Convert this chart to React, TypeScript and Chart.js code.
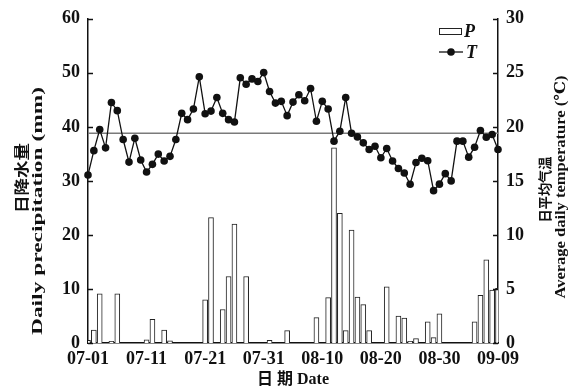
import { useEffect, useRef } from 'react';
import { Chart, registerables } from 'chart.js';

Chart.register(...registerables);

const dates = [
  '07-01','07-02','07-03','07-04','07-05','07-06','07-07','07-08','07-09','07-10',
  '07-11','07-12','07-13','07-14','07-15','07-16','07-17','07-18','07-19','07-20',
  '07-21','07-22','07-23','07-24','07-25','07-26','07-27','07-28','07-29','07-30',
  '07-31','08-01','08-02','08-03','08-04','08-05','08-06','08-07','08-08','08-09',
  '08-10','08-11','08-12','08-13','08-14','08-15','08-16','08-17','08-18','08-19',
  '08-20','08-21','08-22','08-23','08-24','08-25','08-26','08-27','08-28','08-29',
  '08-30','08-31','09-01','09-02','09-03','09-04','09-05','09-06','09-07','09-08',
  '09-09',
];

const xTickLabels = ['07-01', '07-11', '07-21', '07-31', '08-10', '08-20', '08-30', '09-09'];

// Daily precipitation P (mm)
const precipitation = [
  0.5, 2.4, 9.1, 0, 0.3, 9.1, 0, 0, 0, 0,
  0.6, 4.4, 0, 2.4, 0.4, 0, 0, 0, 0, 0,
  8.0, 23.2, 0, 6.2, 12.3, 22.0, 0, 12.3, 0, 0,
  0, 0.5, 0, 0, 2.3, 0, 0, 0, 0, 4.7,
  0, 8.4, 36.1, 24.0, 2.3, 20.9, 8.5, 7.1, 2.3, 0,
  0, 10.4, 0, 5.0, 4.6, 0.3, 0.8, 0, 3.9, 1.0,
  5.4, 0, 0, 0, 0, 0, 3.9, 8.8, 15.4, 9.8,
  10.1,
];

// Average daily temperature T (°C)
const temperature = [
  15.55, 17.8, 19.75, 18.06, 22.26, 21.5, 18.83, 16.74, 18.95, 16.93,
  15.82, 16.53, 17.48, 16.84, 17.27, 18.83, 21.25, 20.67, 21.65, 24.63,
  21.22, 21.46, 22.72, 21.25, 20.67, 20.45, 24.54, 23.95, 24.44, 24.2,
  25.02, 23.27, 22.2, 22.36, 21.04, 22.29, 22.97, 22.42, 23.55, 20.52,
  22.36, 21.65, 18.68, 19.6, 22.72, 19.41, 19.07, 18.52, 17.91, 18.2,
  17.14, 18.0, 16.84, 16.15, 15.73, 14.69, 16.7, 17.1, 16.87, 14.1,
  14.7, 15.67, 15.0, 18.68, 18.68, 17.2, 18.12, 19.66, 19.04, 19.29,
  17.9,
];

const meanTemperature = 19.4;

const leftTicks = [0, 10, 20, 30, 40, 50, 60];
const rightTicks = [0, 5, 10, 15, 20, 25, 30];

const SERIF = "'Liberation Serif', 'DejaVu Serif', serif";
const CJK = "'Noto Sans CJK SC', sans-serif";

function stretchedText(ctx: CanvasRenderingContext2D, text: string, font: string, cx: number, cy: number, len: number) {
  ctx.save();
  ctx.font = font;
  const w = ctx.measureText(text).width;
  ctx.translate(cx, cy);
  ctx.rotate(-Math.PI / 2);
  ctx.scale(len / w, 1);
  ctx.textAlign = 'center';
  ctx.textBaseline = 'middle';
  ctx.fillStyle = '#111';
  ctx.fillText(text, 0, 0);
  ctx.restore();
}

const decor = {
  id: 'decor',
  beforeDatasetsDraw(chart: any) {
    const { ctx, chartArea, scales } = chart;
    const y = scales.y1.getPixelForValue(meanTemperature);
    ctx.save();
    ctx.strokeStyle = '#7a7a7a';
    ctx.lineWidth = 1.5;
    ctx.beginPath();
    ctx.moveTo(chartArea.left, y);
    ctx.lineTo(chartArea.right, y);
    ctx.stroke();
    ctx.restore();
  },
  afterDraw(chart: any) {
    const { ctx, chartArea, scales } = chart;
    ctx.save();
    ctx.strokeStyle = '#111';
    ctx.lineWidth = 1.5;
    leftTicks.forEach((v) => {
      const y = Math.round(scales.y.getPixelForValue(v)) + 0.5;
      ctx.beginPath();
      ctx.moveTo(chartArea.left, y);
      ctx.lineTo(chartArea.left + 5, y);
      ctx.stroke();
    });
    rightTicks.forEach((v) => {
      const y = Math.round(scales.y1.getPixelForValue(v)) + 0.5;
      ctx.beginPath();
      ctx.moveTo(chartArea.right, y);
      ctx.lineTo(chartArea.right - 5, y);
      ctx.stroke();
    });
    ctx.restore();

    // axis titles
    stretchedText(ctx, '日降水量', `bold 15px ${CJK}`, 21.5, 178, 70);
    stretchedText(ctx, 'Daily precipitation (mm)', `bold 15px ${SERIF}`, 38, 211, 248);
    stretchedText(ctx, '日平均气温', `bold 14px ${CJK}`, 545, 189.5, 66);
    stretchedText(ctx, 'Average daily temperature (℃)', `bold 15px ${SERIF}`, 561, 187, 223);

    ctx.save();
    ctx.fillStyle = '#111';
    ctx.textAlign = 'center';
    ctx.textBaseline = 'middle';
    ctx.font = `bold 16px ${SERIF}, ${CJK}`;
    ctx.fillText('日 期 Date', 293, 380);
    ctx.restore();

    // legend
    ctx.save();
    ctx.strokeStyle = '#222';
    ctx.fillStyle = '#fff';
    ctx.lineWidth = 1;
    ctx.fillRect(439.5, 28.5, 22, 6);
    ctx.strokeRect(439.5, 28.5, 22, 6);
    ctx.strokeStyle = '#111';
    ctx.lineWidth = 1.3;
    ctx.beginPath();
    ctx.moveTo(439, 52);
    ctx.lineTo(463, 52);
    ctx.stroke();
    ctx.fillStyle = '#111';
    ctx.beginPath();
    ctx.arc(451, 52, 3.8, 0, Math.PI * 2);
    ctx.fill();
    ctx.font = `italic bold 18px ${SERIF}`;
    ctx.textAlign = 'left';
    ctx.textBaseline = 'middle';
    ctx.fillText('P', 464, 32);
    ctx.fillText('T', 466, 53);
    ctx.restore();
  },
};

export default function App() {
  const ref = useRef<HTMLCanvasElement | null>(null);

  useEffect(() => {
    if (!ref.current) return;
    const tickFont = { family: SERIF, size: 18, weight: 'bold' as const };
    const chart = new Chart(ref.current, {
      type: 'bar',
      data: {
        labels: dates,
        datasets: [
          {
            type: 'line',
            label: 'T',
            data: temperature,
            yAxisID: 'y1',
            borderColor: '#111',
            borderWidth: 1.3,
            pointRadius: 3.8,
            pointBackgroundColor: '#111',
            pointBorderColor: '#111',
            pointBorderWidth: 0,
            tension: 0,
            order: 0,
          } as any,
          {
            type: 'bar',
            label: 'P',
            data: precipitation,
            yAxisID: 'y',
            backgroundColor: '#fff',
            borderColor: '#222',
            borderWidth: 1,
            barThickness: 5,
            order: 2,
          },
        ],
      },
      options: {
        responsive: false,
        devicePixelRatio: 1,
        animation: false,
        layout: { padding: { top: 18, left: 0, right: 0, bottom: 0 } },
        plugins: {
          legend: { display: false },
          tooltip: { enabled: false },
        },
        scales: {
          x: {
            type: 'category',
            offset: false,
            grid: { display: false, drawTicks: false },
            border: { display: true, color: '#111', width: 1.5 },
            ticks: {
              autoSkip: false,
              maxRotation: 0,
              minRotation: 0,
              padding: 6,
              color: '#111',
              font: tickFont,
              callback: function (this: any, value: any, index: number) {
                const lab = dates[index];
                return xTickLabels.includes(lab) ? lab : '';
              },
            },
            afterFit: (s: any) => { s.height = 44; },
          },
          y: {
            position: 'left',
            min: 0,
            max: 60,
            grid: { display: false, drawTicks: false },
            border: { display: true, color: '#111', width: 1.5 },
            ticks: { stepSize: 10, padding: 8, color: '#111', font: tickFont },
            afterFit: (s: any) => { s.width = 88; },
          },
          y1: {
            position: 'right',
            min: 0,
            max: 30,
            grid: { display: false, drawTicks: false },
            border: { display: true, color: '#111', width: 1.5 },
            ticks: { stepSize: 5, padding: 8, color: '#111', font: tickFont },
            afterFit: (s: any) => { s.width = 84; },
          },
        },
      },
      plugins: [decor],
    });
    return () => chart.destroy();
  }, []);

  return (
    <div style={{ position: 'absolute', left: 0, top: 0, width: 582, height: 387, background: '#fff' }}>
      <canvas ref={ref} width={582} height={387} />
    </div>
  );
}
